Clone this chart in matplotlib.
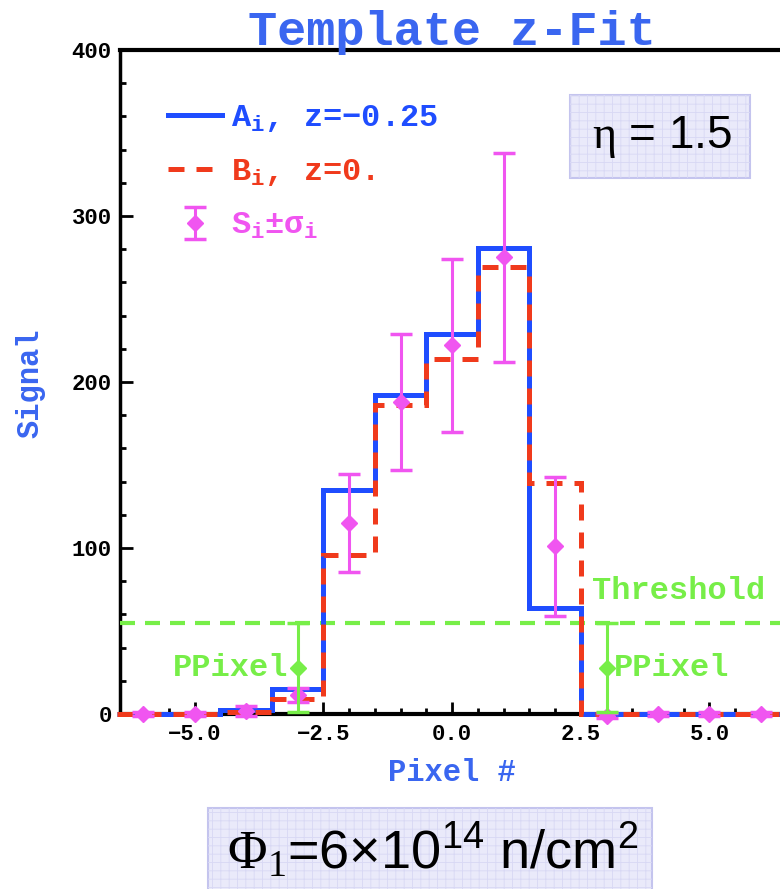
import matplotlib
matplotlib.use("Agg")
import matplotlib.pyplot as plt
import numpy as np
from matplotlib.lines import Line2D
from matplotlib.patches import Rectangle

plt.rcParams["font.family"] = ["Liberation Mono", "DejaVu Sans Mono"]
plt.rcParams["font.weight"] = "bold"
plt.rcParams["mathtext.fontset"] = "custom"
plt.rcParams["mathtext.rm"] = "Liberation Serif:weight=normal"
plt.rcParams["mathtext.default"] = "regular"
plt.rcParams["hatch.linewidth"] = 0.6

BLUE = "#1f4dff"
TITLE_BLUE = "#3a66f0"
RED = "#f03a1c"
MAGENTA = "#f055f0"
GREEN = "#77ee48"
BOX_FILL = "#eaeafa"
BOX_EDGE = "#c4c4ee"

# pixel grid and bin edges
pixels = np.arange(-6, 7)
edges = np.arange(-6.5, 7.0, 1.0)

# templates and measured signal per pixel
template_a = [0, 0, 2.5, 15, 135, 192, 229, 281, 64, 0, 0, 0, 0]
template_b = [0, 0, 1, 9, 96, 186, 214, 269, 139, 0, 0, 0, 0]
signal = [0, 0, 2, 11.5, 115, 188, 222, 275, 101, -1, 0, 0, 0]
sigma = [1, 1, 3, 4, 29.5, 41, 52, 63, 42, 1.5, 1, 1, 1]

# pseudo-pixels below threshold
ppixel_x = [-3, 3]
ppixel_signal = [28, 28]
ppixel_sigma = [27, 27]
threshold = 55

legend_labels = ["A$_i$, z=\u22120.25", "B$_i$, z=0.", "S$_i$\u00b1\u03c3$_i$"]

W, H = 780, 889


def fy(y):
    return 1 - y / H


def info_box(fig, x0, y0, x1, y1):
    rect = (x0 / W, fy(y1)), (x1 - x0) / W, (y1 - y0) / H
    fig.patches.append(Rectangle(*rect, transform=fig.transFigure,
                                 fc=BOX_FILL, ec=BOX_EDGE, lw=1.5, zorder=5))
    fig.patches.append(Rectangle(*rect, transform=fig.transFigure, fill=False,
                                 ec="#d8d8f4", lw=0, hatch="++", zorder=5))


fig = plt.figure(figsize=(W / 100, H / 100), dpi=100)
ax = fig.add_axes([120 / W, fy(714), 660 / W, 664 / H])

ax.stairs(template_a, edges, baseline=None, color=BLUE, lw=3.6,
          zorder=3, clip_on=False)
ax.stairs(template_b, edges, baseline=None, color=RED, lw=3.6,
          ls=(0, (3.2, 2.4)), zorder=4, clip_on=False)

ax.axhline(threshold, color=GREEN, lw=3, ls=(0, (3.6, 2.4)), zorder=2.6)

eb = ax.errorbar(pixels, signal, yerr=sigma, fmt="D", color=MAGENTA, ms=8,
                 elinewidth=2.2, capsize=8, capthick=2.5, zorder=5)
gb = ax.errorbar(ppixel_x, ppixel_signal, yerr=ppixel_sigma, fmt="D",
                 color=GREEN, ms=8, elinewidth=2.2, capsize=8, capthick=2.5,
                 zorder=6)
for cont in (eb, gb):
    data_line, caps, bars = cont.lines
    for art in [data_line, *caps, *bars]:
        art.set_clip_on(False)

ax.text(ppixel_x[0] - 0.17, ppixel_signal[0], "PPixel", color=GREEN,
        fontsize=23, ha="right", va="center")
ax.text(ppixel_x[1] + 0.15, ppixel_signal[1], "PPixel", color=GREEN,
        fontsize=23, ha="left", va="center")
ax.text(2.72, 74, "Threshold", color=GREEN, fontsize=23, ha="left", va="center")

handles = [Line2D([], [], color=BLUE, lw=3.6),
           Line2D([], [], color=RED, lw=3.6, ls=(0, (3.2, 2.4))),
           eb]
leg = ax.legend(handles, legend_labels, loc="upper left",
                bbox_to_anchor=(0.072, 0.92), frameon=False,
                prop={"size": 23, "weight": "bold"}, handlelength=1.7,
                handletextpad=0.3, labelspacing=0.72, borderaxespad=0,
                borderpad=0)
for txt, col in zip(leg.get_texts(), [BLUE, RED, MAGENTA]):
    txt.set_color(col)

ax.set_xlim(-6.45, 6.37)
ax.set_ylim(0, 400)
ax.set_xticks([-5, -2.5, 0, 2.5, 5])
ax.set_xticklabels(["\u22125.0", "\u22122.5", "0.0", "2.5", "5.0"])
ax.set_xticks(np.arange(-6.0, 6.5, 0.5), minor=True)
ax.set_yticks(np.arange(0, 401, 100))
ax.set_yticks(np.arange(0, 401, 20), minor=True)
ax.tick_params(which="both", direction="in", width=2, top=False, right=False,
               labelsize=16)
ax.tick_params(which="major", length=9)
ax.tick_params(which="minor", length=4.5)
ax.tick_params(axis="x", pad=7)
ax.tick_params(axis="y", pad=6)

ax.spines["right"].set_visible(False)
ax.spines["left"].set_linewidth(2.5)
ax.spines["top"].set_linewidth(3)
ax.spines["bottom"].set_linewidth(3)
ax.patch.set_visible(False)

fig.text(452 / W, fy(45), "Template z-Fit", color=TITLE_BLUE, fontsize=35,
         ha="center", va="baseline")
fig.text(30 / W, fy(383), "Signal", color=TITLE_BLUE, fontsize=22,
         rotation=90, ha="center", va="center")
fig.text(452 / W, fy(773), "Pixel #", color=TITLE_BLUE, fontsize=22,
         ha="center", va="center")

info_box(fig, 570, 95, 750, 178)
fig.text(662 / W, fy(137), "$\\mathrm{\\eta}$ = 1.5", family="Liberation Sans",
         weight="normal", fontsize=33, ha="center", va="center", zorder=6)

info_box(fig, 208, 808, 652, 895)
fig.text(433 / W, fy(851), "$\\mathrm{\\Phi_1}$=6\u00d710$^{14}$ n/cm$^{2}$",
         family="Liberation Sans", weight="normal", fontsize=39,
         ha="center", va="center", zorder=6)

fig.savefig("out.png", dpi=100)
